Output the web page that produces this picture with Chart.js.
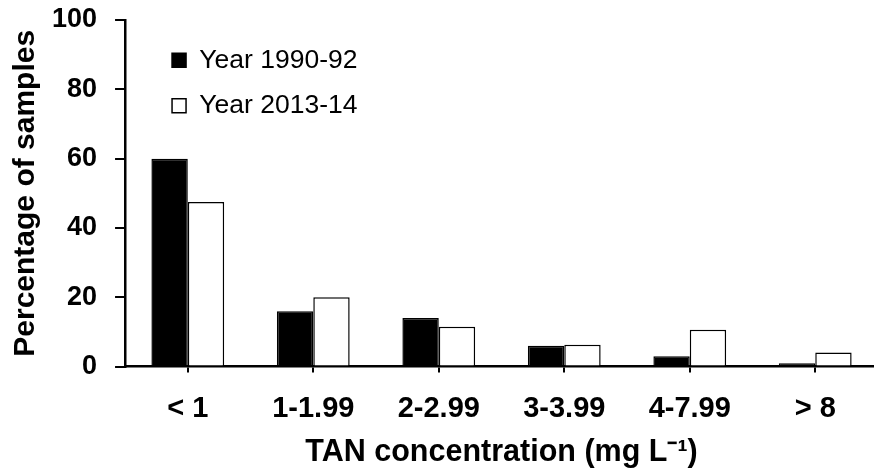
<!DOCTYPE html>
<html>
<head>
<meta charset="utf-8">
<script src="https://cdn.jsdelivr.net/npm/chart.js@4/dist/chart.umd.min.js"></script>
<style>
    html, body { margin: 0; padding: 0; background: #ffffff; overflow: hidden; }
    #wrap { width: 880px; height: 473px; }
</style>
</head>
<body>
<div id="wrap"><canvas id="tanChart" width="880" height="473"></canvas></div>
<script>
const categories = ['< 1', '1-1.99', '2-2.99', '3-3.99', '4-7.99', '> 8'];
const year1990 = [60, 16, 14, 6, 3, 1];
const year2013 = [47.5, 20, 11.5, 6.3, 10.6, 4.1];
const yTicks = [0, 20, 40, 60, 80, 100];

const fontFamily = '"Liberation Sans", Arial, Helvetica, sans-serif';

// nudge the legend inside the plot area, like the original figure
const legendShift = {
    id: 'legendShift',
    afterLayout(chart) {
        if (chart.legend) {
            chart.legend.left += 28;
            chart.legend.top += 28;
        }
    }
};

const ctx = document.getElementById('tanChart').getContext('2d');

new Chart(ctx, {
    type: 'bar',
    data: {
        labels: categories,
        datasets: [{
            label: 'Year 1990-92',
            data: year1990,
            backgroundColor: '#000000',
            borderColor: '#000000',
            borderWidth: 1.5
        }, {
            label: 'Year 2013-14',
            data: year2013,
            backgroundColor: '#ffffff',
            borderColor: '#000000',
            borderWidth: 1.5
        }]
    },
    options: {
        responsive: false,
        animation: false,
        devicePixelRatio: 1,
        datasets: {
            bar: {
                barPercentage: 1,
                categoryPercentage: 0.58
            }
        },
        layout: {
            padding: { left: 2, top: 0, right: 2, bottom: 0 }
        },
        plugins: {
            tooltip: { enabled: false },
            legend: {
                position: 'chartArea',
                align: 'start',
                labels: {
                    boxWidth: 14,
                    boxHeight: 14,
                    padding: 19,
                    color: '#000000',
                    font: { family: fontFamily, size: 26.5 }
                }
            }
        },
        scales: {
            x: {
                offset: true,
                grid: {
                    offset: false,
                    drawOnChartArea: false,
                    drawTicks: true,
                    tickLength: 6,
                    color: '#000000',
                    lineWidth: 2
                },
                border: { display: true, color: '#000000', width: 2.5 },
                ticks: {
                    color: '#000000',
                    padding: 19,
                    maxRotation: 0,
                    font: { family: fontFamily, size: 29, weight: 'bold' }
                },
                title: {
                    display: true,
                    text: 'TAN concentration (mg L⁻¹)',
                    color: '#000000',
                    padding: { top: -11, bottom: 2 },
                    font: { family: fontFamily, size: 30.5, weight: 'bold' }
                }
            },
            y: {
                min: 0,
                max: 100,
                afterBuildTicks(scale) {
                    scale.ticks = yTicks.map(v => ({ value: v }));
                },
                afterFit(scale) {
                    // keep the plot top near the canvas top, as in the figure
                    scale.paddingTop = 20;
                },
                grid: {
                    drawOnChartArea: false,
                    drawTicks: true,
                    tickLength: 10,
                    color: '#000000',
                    lineWidth: 2
                },
                border: { display: true, color: '#000000', width: 2.5 },
                ticks: {
                    color: '#000000',
                    padding: 18,
                    font: { family: fontFamily, size: 27, weight: 'bold' }
                },
                title: {
                    display: true,
                    text: 'Percentage of samples',
                    color: '#000000',
                    padding: { top: 6, bottom: -10 },
                    font: { family: fontFamily, size: 30, weight: 'bold' }
                }
            }
        }
    },
    plugins: [legendShift]
});
</script>
</body>
</html>
